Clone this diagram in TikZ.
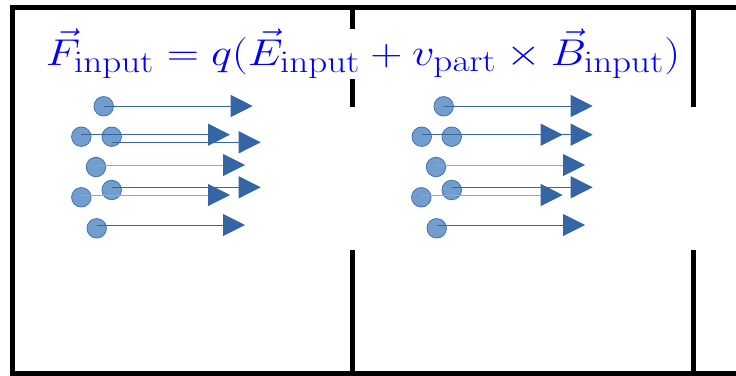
\documentclass[tikz,border=0pt]{standalone}
\usetikzlibrary{arrows.meta}
\definecolor{dotfill}{RGB}{114,158,206}
\definecolor{dotline}{RGB}{65,113,176}
\definecolor{flowblue}{RGB}{52,101,165}
\definecolor{flowpale}{RGB}{140,168,204}
\tikzset{
    wall/.style={line width=5pt, black},
    dot/.style={circle, draw=dotline, fill=dotfill, line width=0.8pt, minimum size=19.5pt, inner sep=0pt},
    flow/.style={flowblue, line width=1pt, -{Triangle[length=22pt, width=22pt, color=flowblue]}},
    flowpale/.style={flow, draw=flowpale}
}
\begin{document}
\begin{tikzpicture}[x=1pt, y=-1pt]
        \useasboundingbox (0,0) rectangle (736,375);
        % chamber walls
        \draw[wall, line join=miter] (740,7.5) -- (12.5,7.5) -- (12.5,373.5) -- (740,373.5);
        \foreach \w in {352,693} {
            \draw[wall] (\w,7.5) -- (\w,107);
            \draw[wall] (\w,250) -- (\w,373.5);
        }
        % particles
        \foreach \n/\x/\y/\ay/\tx in {1/103.7/106.3/106/252.7, 2/81.3/136.7/134.7/230, 3/111.7/136.7/142.3/260.7,
                4/96/167/165/245, 5/111.7/190/187.3/260.7, 6/81.3/197.3/195/230, 7/96.7/228.3/225/245,
                8/443.7/106.3/106/592.7, 9/421.7/136.7/134.7/562.7, 10/451.7/136.7/134.7/592.7,
                11/436/167/165/585, 12/451.7/190/187.3/592.7, 13/421.3/197.3/195/562.7, 14/436.7/228.3/225/585} {
            \node[dot] (p\n) at (\x,\y) {};
            \coordinate (t\n) at (\tx,\ay);
        }
        \foreach \n/\s in {1/flow,2/flow,3/flow,4/flowpale,5/flow,6/flowpale,7/flow,
                8/flow,9/flow,10/flow,11/flowpale,12/flow,13/flowpale,14/flow}
            \draw[\s] (p\n.center |- t\n) -- (t\n);
        % force law
        \node[fill=white, text=blue, inner sep=0pt, anchor=base] (force) at (363,65)
            {\scalebox{1.79}[1.5]{\fontsize{24.88}{30}\selectfont $\vec{F}_{\mathrm{input}} = q(\vec{E}_{\mathrm{input}} + v_{\mathrm{part}} \times \vec{B}_{\mathrm{input}})$}};
\end{tikzpicture}
\end{document}
